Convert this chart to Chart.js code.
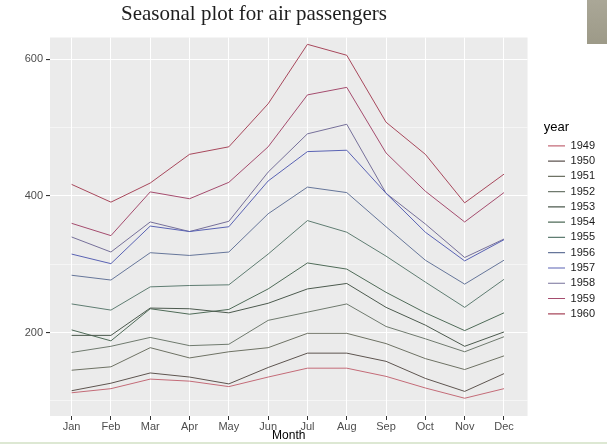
<!DOCTYPE html>
<html>
<head>
<meta charset="utf-8">
<script src="https://cdn.jsdelivr.net/npm/chart.js@4.4.0/dist/chart.umd.min.js"></script>
<style>
  html, body { margin: 0; padding: 0; background: #fff; }
  #wrap { position: relative; width: 607px; height: 444px; overflow: hidden; }
  #slideTab { position: absolute; right: 0; top: 0; width: 20px; height: 44px; background: linear-gradient(#aaa797, #9d9a88); }
  #slideEdge { position: absolute; left: 0; bottom: 0; width: 607px; height: 2px; background: #dde8d3; }
</style>
</head>
<body>
<div id="wrap">
  <canvas id="seasonalChart" width="607" height="444"></canvas>
  <div id="slideTab"></div>
  <div id="slideEdge"></div>
</div>
<script>
const months = ["Jan", "Feb", "Mar", "Apr", "May", "Jun", "Jul", "Aug", "Sep", "Oct", "Nov", "Dec"];
const years = ["1949", "1950", "1951", "1952", "1953", "1954", "1955", "1956", "1957", "1958", "1959", "1960"];

const y1949 = [112, 118, 132, 129, 121, 135, 148, 148, 136, 119, 104, 118];
const y1950 = [115, 126, 141, 135, 125, 149, 170, 170, 158, 133, 114, 140];
const y1951 = [145, 150, 178, 163, 172, 178, 199, 199, 184, 162, 146, 166];
const y1952 = [171, 180, 193, 181, 183, 218, 230, 242, 209, 191, 172, 194];
const y1953 = [196, 196, 236, 235, 229, 243, 264, 272, 237, 211, 180, 201];
const y1954 = [204, 188, 235, 227, 234, 264, 302, 293, 259, 229, 203, 229];
const y1955 = [242, 233, 267, 269, 270, 315, 364, 347, 312, 274, 237, 278];
const y1956 = [284, 277, 317, 313, 318, 374, 413, 405, 355, 306, 271, 306];
const y1957 = [315, 301, 356, 348, 355, 422, 465, 467, 404, 347, 305, 336];
const y1958 = [340, 318, 362, 348, 363, 435, 491, 505, 404, 359, 310, 337];
const y1959 = [360, 342, 406, 396, 420, 472, 548, 559, 463, 407, 362, 405];
const y1960 = [417, 391, 419, 461, 472, 535, 622, 606, 508, 461, 390, 432];
const series = [y1949, y1950, y1951, y1952, y1953, y1954, y1955, y1956, y1957, y1958, y1959, y1960];

const yTickLabels = [200, 400, 600];

// muted line colours as they look in the screenshot
const yearColors = [
  "#c46b78", "#5e5550", "#6e7264", "#6f7a6e", "#4c5a4e", "#4f6b58",
  "#5f7d72", "#66769a", "#5a63b4", "#76709a", "#a54c6e", "#a8485c"
];

const FONT = "'Liberation Sans', Arial, sans-serif";

const panelBg = {
  id: "panelBg",
  beforeDraw(chart) {
    const { ctx, chartArea: a } = chart;
    ctx.save();
    ctx.fillStyle = "#ebebeb";
    ctx.fillRect(a.left, a.top, a.right - a.left, a.bottom - a.top);
    ctx.restore();
  }
};

const plotTitle = {
  id: "plotTitle",
  afterDraw(chart) {
    const ctx = chart.ctx;
    ctx.save();
    ctx.font = "21px 'Liberation Serif', 'Times New Roman', serif";
    ctx.fillStyle = "#1e1e1e";
    ctx.textAlign = "center";
    ctx.textBaseline = "alphabetic";
    ctx.fillText("Seasonal plot for air passengers", 254, 20);
    ctx.restore();
  }
};

const ctx = document.getElementById("seasonalChart").getContext("2d");
new Chart(ctx, {
  type: "line",
  data: {
    datasets: years.map((yr, i) => ({
      label: yr,
      data: series[i].map((v, m) => ({ x: m, y: v })),
      borderColor: yearColors[i],
      backgroundColor: yearColors[i],
      borderWidth: 1,
      pointRadius: 0,
      tension: 0,
      xAxisID: "x",
      yAxisID: "y",
    })),
  },
  options: {
    responsive: false,
    animation: false,
    layout: { padding: { left: 0, top: 0, right: 2, bottom: 0 } },
    scales: {
      x: {
        type: "linear",
        min: -0.55,
        max: 11.6,
        afterFit: (s) => { s.height = 28; },
        ticks: {
          stepSize: 1,
          includeBounds: false,
          autoSkip: false,
          maxRotation: 0,
          padding: 0,
          color: "#4d4d4d",
          font: { family: FONT, size: 11 },
          callback: (v) => months[v] ?? "",
        },
        grid: { color: "#ffffff", lineWidth: 1, tickColor: "#333333", tickLength: 4 },
        border: { display: false },
        title: {
          display: true,
          text: "Month",
          color: "#000000",
          font: { family: FONT, size: 12 },
          padding: { top: 0, bottom: 0.8 },
        },
      },
      y: {
        type: "linear",
        min: 78,
        max: 632,
        afterFit: (s) => { s.width = 50; },
        ticks: {
          stepSize: 100,
          includeBounds: false,
          padding: 3,
          color: "#4d4d4d",
          font: { family: FONT, size: 11 },
          callback: (v) => (yTickLabels.includes(v) ? String(v) : ""),
        },
        grid: {
          color: "#ffffff",
          lineWidth: (c) => (c.tick && yTickLabels.includes(c.tick.value) ? 1.1 : 0.5),
          tickColor: (c) => (c.tick && yTickLabels.includes(c.tick.value) ? "#333333" : "rgba(0,0,0,0)"),
          tickLength: 4,
        },
        border: { display: false },
      },
      xTop: {
        type: "linear",
        position: "top",
        afterFit: (s) => { s.height = 37.5; },
        ticks: { display: false },
        grid: { display: false, drawTicks: false },
        border: { display: false },
      },
      yRight: {
        type: "linear",
        position: "right",
        afterFit: (s) => { s.width = 16.2; },
        ticks: { display: false },
        grid: { display: false, drawTicks: false },
        border: { display: false },
      },
    },
    plugins: {
      legend: {
        position: "right",
        align: "center",
        fullSize: true,
        title: {
          display: true,
          text: "year",
          position: "start",
          color: "#000000",
          font: { family: FONT, size: 13 },
          padding: 0,
        },
        labels: {
          boxWidth: 17,
          boxHeight: 1.2,
          padding: 4.27,
          color: "#1a1a1a",
          font: { family: FONT, size: 11 },
          generateLabels: (chart) =>
            Chart.defaults.plugins.legend.labels.generateLabels(chart).map((l) => ({ ...l, lineWidth: 0 })),
        },
      },
      tooltip: { enabled: false },
    },
  },
  plugins: [panelBg, plotTitle],
});
</script>
</body>
</html>
